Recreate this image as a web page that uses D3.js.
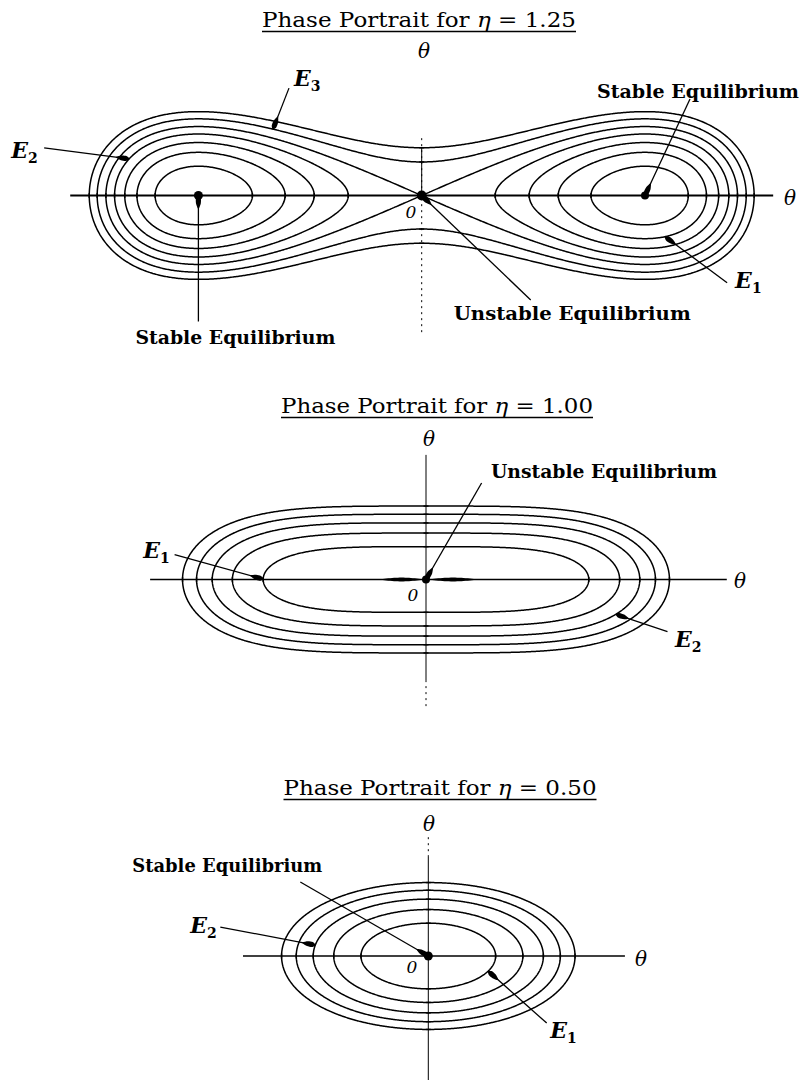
<!DOCTYPE html>
<html>
<head>
<meta charset="utf-8">
<script src="https://cdn.jsdelivr.net/npm/d3@7"></script>
<style>
  html, body { margin: 0; padding: 0; background: #fff; }
  svg { display: block; }
</style>
</head>
<body>
<svg id="chart" width="807" height="1080"></svg>
<script>
// ---- data -------------------------------------------------------------
// parameter of each portrait
const etaValues = [1.25, 1.00, 0.50];
const etaLabels = ["1.25", "1.00", "0.50"];
// energy of every trajectory drawn in each portrait, H = ω²/2 + V(θ)
const energiesEta125 = [-0.0128, -0.0095, -0.0064, -0.0032, 0.0, 0.0037, 0.0075];
const energiesEta100 = [0.0036, 0.0072, 0.0107, 0.0142, 0.0180];
const energiesEta050 = [0.0036, 0.0072, 0.0108, 0.0144, 0.0180];

// V(θ) = (1 - η) θ²/2 + θ⁴/4
function potential(theta, eta) {
  return (1 - eta) * theta * theta / 2 + Math.pow(theta, 4) / 4;
}
function energy(theta, omega, eta) {
  return omega * omega / 2 + potential(theta, eta);
}
function omegaOn(E, theta, eta, side) {
  return side * Math.sqrt(Math.max(0, 2 * (E - potential(theta, eta))));
}
// positive θ where a trajectory of energy E meets the θ axis
function turningPoints(E, eta) {
  const a = 1 - eta, disc = a * a + 4 * E;
  if (disc < 0) return [];
  const r = Math.sqrt(disc);
  return [-a + r, -a - r].filter(u => u > 1e-9).map(Math.sqrt);
}

// ---- layout -----------------------------------------------------------
const serif = "'DejaVu Serif', 'Liberation Serif', serif";
const svg = d3.select("#chart");

const panels = [
  {
    eta: etaValues[0], label: etaLabels[0], energies: energiesEta125,
    origin: [421.7, 195.5], kx: 446.6, ky: 390,
    title: { x: 419, y: 27, width: 314 },
    grid: { theta: [-0.8, 0.8], omega: [-0.26, 0.26], n: [640, 260] },
    hAxis: { from: -0.787, to: 0.787, width: 2.2 },
    vAxis: [
      { from: 0.147, to: -0.353, dash: "2,4" },
      { from: 0.122, to: 0.0, dash: null }
    ],
    thetaTop: [424, 58], thetaRight: [790, 205], zero: [411, 218],
    dots: [{ theta: -0.5, r: 4.5 }, { theta: 0.5, r: 4 }, { theta: 0, r: 5 }],
    notes: [
      { text: "Stable Equilibrium", eq: 0.5, start: [45, -96.5], label: [-48, -97.5], len: 202 },
      { text: "Stable Equilibrium", eq: -0.5, start: [0, 126], label: [-63, 148.5], len: 200 },
      { text: "Unstable Equilibrium", eq: 0, start: [109, 104.5], label: [32, 124.5], len: 237 },
      { sub: "3", orbit: 5, theta: -0.333, side: 1, start: [16, -41], label: [21, -43] },
      { sub: "2", orbit: 3, theta: -0.655, side: 1, start: [-85, -11], label: [-118, -1] },
      { sub: "1", orbit: 1, theta: 0.545, side: -1, start: [62, 46], label: [70, 51] }
    ]
  },
  {
    eta: etaValues[1], label: etaLabels[1], energies: energiesEta100,
    origin: [426, 579.5], kx: 470, ky: 387,
    title: { x: 437, y: 413, width: 312 },
    grid: { theta: [-0.6, 0.6], omega: [-0.23, 0.23], n: [560, 220] },
    hAxis: { from: -0.587, to: 0.640, width: 1.6 },
    vAxis: [
      { from: 0.322, to: -0.26, dash: null },
      { from: -0.26, to: -0.329, dash: "2,4" }
    ],
    thetaTop: [429, 446], thetaRight: [740, 588], zero: [413, 601],
    dots: [{ theta: 0, r: 4 }],
    spindles: [[-0.10, -0.004], [0.004, 0.111]],
    notes: [
      { text: "Unstable Equilibrium", eq: 0, start: [55.6, -96.5], label: [65, -101.5], len: 226 },
      { sub: "1", orbit: 0, theta: -0.3464, side: 1, start: [-88.6, -24.5], label: [-120, -21.5] },
      { sub: "2", orbit: 2, theta: 0.404, side: -1, start: [51.6, 17.4], label: [59, 32.7] }
    ]
  },
  {
    eta: etaValues[2], label: etaLabels[2], energies: energiesEta050,
    origin: [428.3, 956], kx: 565, ky: 387,
    title: { x: 440, y: 795, width: 313 },
    grid: { theta: [-0.32, 0.32], omega: [-0.23, 0.23], n: [420, 220] },
    hAxis: { from: -0.328, to: 0.348, width: 1.6 },
    vAxis: [
      { from: 0.307, to: 0.256, dash: "2,4" },
      { from: 0.256, to: -0.33, dash: null }
    ],
    thetaTop: [429, 831], thetaRight: [641, 966], zero: [412, 973],
    dots: [{ theta: 0, r: 4.5 }],
    notes: [
      { text: "Stable Equilibrium", eq: 0, start: [-128, -74], label: [-296, -84], len: 190 },
      { sub: "2", orbit: 2, theta: -0.2, side: 1, start: [-95, -18], label: [-125, -12] },
      { sub: "1", orbit: 0, theta: 0.106, side: -1, start: [58.5, 52], label: [62, 67] }
    ]
  }
];

// ---- drawing ----------------------------------------------------------
function arrowHead(g, tip, from) {
  const dx = from[0] - tip[0], dy = from[1] - tip[1];
  const len = Math.hypot(dx, dy), ux = dx / len, uy = dy / len, nx = -uy, ny = ux;
  const prof = [[0, 0.6], [3, 2.5], [8, 2.4], [13, 0.5]];
  const pts = prof.map(([t, w]) => [tip[0] + ux * t + nx * w, tip[1] + uy * t + ny * w])
    .concat(prof.slice().reverse().map(([t, w]) => [tip[0] + ux * t - nx * w, tip[1] + uy * t - ny * w]));
  g.append("path").attr("d", d3.line().curve(d3.curveCardinalClosed.tension(0.3))(pts))
    .attr("fill", "#000");
}

function drawPanel(cfg) {
  const g = svg.append("g");
  const x = d3.scaleLinear().domain([0, 1]).range([cfg.origin[0], cfg.origin[0] + cfg.kx]);
  const y = d3.scaleLinear().domain([0, 1]).range([cfg.origin[1], cfg.origin[1] - cfg.ky]);

  // title, underlined
  const title = g.append("text")
    .attr("x", cfg.title.x).attr("y", cfg.title.y)
    .attr("text-anchor", "middle")
    .attr("font-family", serif).attr("font-size", 21)
    .attr("textLength", cfg.title.width).attr("lengthAdjust", "spacingAndGlyphs");
  title.append("tspan").text("Phase Portrait for ");
  title.append("tspan").attr("font-style", "italic").text("η");
  title.append("tspan").text(" = " + cfg.label);
  g.append("line")
    .attr("x1", cfg.title.x - cfg.title.width / 2).attr("x2", cfg.title.x + cfg.title.width / 2)
    .attr("y1", cfg.title.y + 4.5).attr("y2", cfg.title.y + 4.5)
    .attr("stroke", "#000").attr("stroke-width", 1.4);

  // axes
  g.append("line")
    .attr("x1", x(cfg.hAxis.from)).attr("x2", x(cfg.hAxis.to))
    .attr("y1", y(0)).attr("y2", y(0))
    .attr("stroke", "#000").attr("stroke-width", cfg.hAxis.width);
  cfg.vAxis.forEach(s => {
    g.append("line")
      .attr("x1", x(0)).attr("x2", x(0))
      .attr("y1", y(s.from)).attr("y2", y(s.to))
      .attr("stroke", "#000").attr("stroke-width", 1)
      .attr("stroke-dasharray", s.dash);
  });

  // trajectories: level sets of H over a sampled grid
  const [t0, t1] = cfg.grid.theta, [w0, w1] = cfg.grid.omega;
  const [nx, ny] = cfg.grid.n;
  const gx = d3.scaleLinear().domain([0.5, nx - 0.5]).range([t0, t1]);
  const gy = d3.scaleLinear().domain([0.5, ny - 0.5]).range([w1, w0]);
  const values = new Float64Array(nx * ny);
  for (let j = 0; j < ny; j++) {
    const w = gy(j + 0.5);
    for (let i = 0; i < nx; i++) values[j * nx + i] = -energy(gx(i + 0.5), w, cfg.eta);
  }
  const contours = d3.contours().size([nx, ny])
    .thresholds(cfg.energies.map(e => -e))(values);
  const proj = d3.geoTransform({
    point(px, py) { this.stream.point(x(gx(px)), y(gy(py))); }
  });
  g.append("g").selectAll("path").data(contours).join("path")
    .attr("d", d3.geoPath(proj))
    .attr("fill", "none").attr("stroke", "#000").attr("stroke-width", 1.5)
    .attr("stroke-linejoin", "round");

  // small marks where trajectories cross the axes
  cfg.energies.forEach(E => {
    turningPoints(E, cfg.eta).forEach(t => {
      [-t, t].forEach(tt => {
        g.append("line").attr("x1", x(tt)).attr("x2", x(tt))
          .attr("y1", y(0) - 2.5).attr("y2", y(0) + 2.5)
          .attr("stroke", "#000").attr("stroke-width", 1.4);
      });
    });
    if (E > potential(0, cfg.eta)) {
      const w = omegaOn(E, 0, cfg.eta, 1);
      [-w, w].forEach(ww => {
        g.append("line").attr("x1", x(0) - 2.5).attr("x2", x(0) + 2.5)
          .attr("y1", y(ww)).attr("y2", y(ww))
          .attr("stroke", "#000").attr("stroke-width", 1.4);
      });
    }
  });

  // tapered marks along the axis
  (cfg.spindles || []).forEach(([a, b]) => {
    const n = 24, top = [], bot = [];
    for (let k = 0; k <= n; k++) {
      const t = a + (b - a) * k / n;
      const hw = 1.9 * Math.sin(Math.PI * k / n);
      top.push([x(t), y(0) - hw]);
      bot.unshift([x(t), y(0) + hw]);
    }
    g.append("path").attr("d", d3.line()(top.concat(bot)) + "Z").attr("fill", "#000");
  });

  // equilibrium points
  cfg.dots.forEach(d => {
    g.append("circle").attr("cx", x(d.theta)).attr("cy", y(0)).attr("r", d.r).attr("fill", "#000");
  });

  // axis letters
  const sym = (pos, txt, size) => g.append("text")
    .attr("x", pos[0]).attr("y", pos[1]).attr("text-anchor", "middle")
    .attr("font-family", serif).attr("font-style", "italic").attr("font-size", size).text(txt);
  sym(cfg.thetaTop, "θ", 20);
  sym(cfg.thetaRight, "θ", 20);
  sym(cfg.zero, "0", 17);

  // annotations with leader arrows
  cfg.notes.forEach(n => {
    let tip;
    if (n.eq !== undefined) tip = [x(n.eq), y(0)];
    else {
      const E = cfg.energies[n.orbit];
      tip = [x(n.theta), y(omegaOn(E, n.theta, cfg.eta, n.side))];
    }
    const start = [tip[0] + n.start[0], tip[1] + n.start[1]];
    g.append("line").attr("x1", start[0]).attr("y1", start[1])
      .attr("x2", tip[0]).attr("y2", tip[1])
      .attr("stroke", "#000").attr("stroke-width", 1.3);
    arrowHead(g, tip, start);
    const lx = tip[0] + n.label[0], ly = tip[1] + n.label[1];
    if (n.text) {
      g.append("text").attr("x", lx).attr("y", ly)
        .attr("font-family", serif).attr("font-weight", "bold").attr("font-size", 19)
        .attr("textLength", n.len).attr("lengthAdjust", "spacingAndGlyphs")
        .text(n.text);
    } else {
      const t = g.append("text").attr("x", lx).attr("y", ly)
        .attr("font-family", serif).attr("font-weight", "bold");
      t.append("tspan").attr("font-style", "italic").attr("font-size", 22).text("E");
      t.append("tspan").attr("font-size", 14).attr("dy", 5).text(n.sub);
    }
  });
}

panels.forEach(drawPanel);
</script>
</body>
</html>
